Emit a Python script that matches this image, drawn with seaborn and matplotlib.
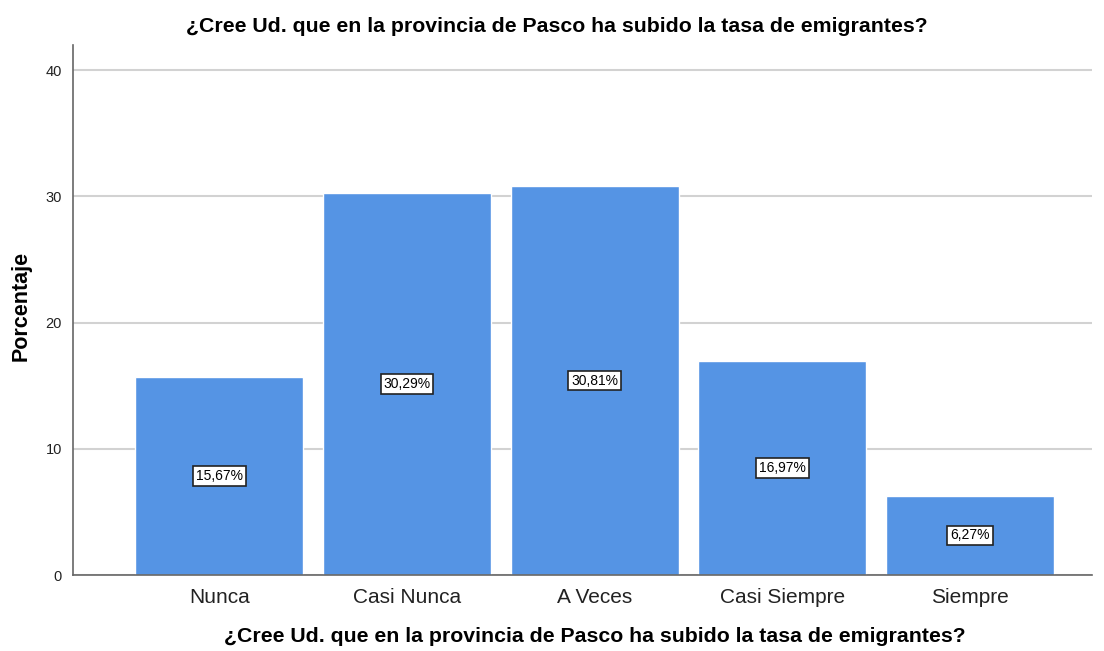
import matplotlib
matplotlib.use('Agg')
import matplotlib.pyplot as plt
import seaborn as sns
import pandas as pd

categorias = ['Nunca', 'Casi Nunca', 'A Veces', 'Casi Siempre', 'Siempre']
porcentajes = [15.67, 30.29, 30.81, 16.97, 6.27]
etiquetas = ['15,67%', '30,29%', '30,81%', '16,97%', '6,27%']
yticks = [0, 10, 20, 30, 40]

titulo = '¿Cree Ud. que en la provincia de Pasco ha subido la tasa de emigrantes?'

sns.set_style('white')
plt.rcParams['font.family'] = ['Liberation Sans', 'DejaVu Sans']

df = pd.DataFrame({'cat': categorias, 'pct': porcentajes})

fig = plt.figure(figsize=(11.04, 6.51), dpi=100)
ax = fig.add_axes([0.0661, 0.1167, 0.9230, 0.8142])

sns.barplot(data=df, x='cat', y='pct', color='#5594E4', saturation=1,
            width=0.895, ax=ax, zorder=2)

ax.set_xlim(-0.78, 4.65)
ax.set_ylim(0, 42)
ax.set_yticks(yticks)
ax.yaxis.grid(True, color='#d2d2d2', linewidth=1.5, zorder=0)
ax.set_axisbelow(True)

for i, (v, t) in enumerate(zip(porcentajes, etiquetas)):
    ax.text(i, v / 2, t, ha='center', va='center', fontsize=10, color='black',
            bbox=dict(boxstyle='square,pad=0.2', fc='white', ec='#222222', lw=1.2),
            zorder=3)

sns.despine(ax=ax, top=True, right=True)
for s in ['left', 'bottom']:
    ax.spines[s].set_color('#666666')
    ax.spines[s].set_linewidth(1.2)

ax.tick_params(axis='x', length=0, labelsize=15, colors='#222222', pad=9)
ax.tick_params(axis='y', length=0, labelsize=10.5, colors='#222222', pad=8)

ax.set_xlabel(titulo, fontsize=15.3, fontweight='bold', color='black')
ax.xaxis.set_label_coords(0.512, -0.098)
ax.set_ylabel('Porcentaje', fontsize=15.5, fontweight='bold', color='black')
ax.yaxis.set_label_coords(-0.041, 0.508)
fig.text(557 / 1104, 1 - 27 / 651, titulo, ha='center', va='center',
         fontsize=15.3, fontweight='bold', color='black')

fig.savefig('out.png', dpi=100)
